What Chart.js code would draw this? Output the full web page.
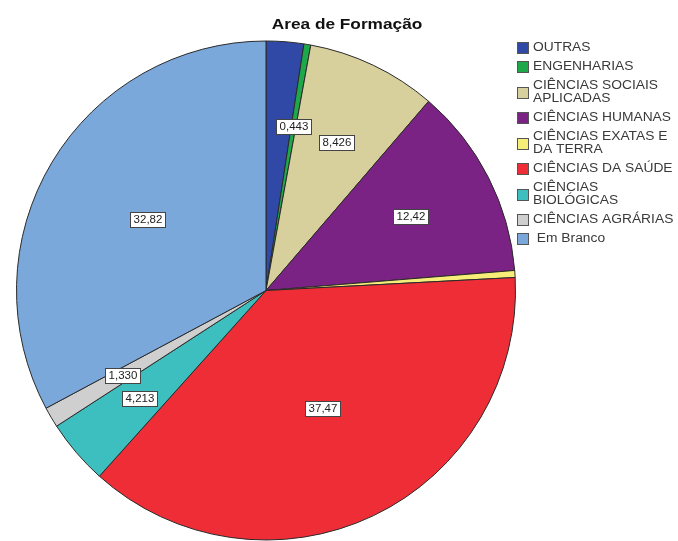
<!DOCTYPE html>
<html>
<head>
<meta charset="utf-8">
<script src="https://cdn.jsdelivr.net/npm/chart.js"></script>
<style>
  body { margin: 0; background: #fff; }
</style>
</head>
<body>
<canvas id="pie" width="678" height="541"></canvas>
<script>
// data (percent)
const categories = [
  ['OUTRAS'],
  ['ENGENHARIAS'],
  ['CIÊNCIAS SOCIAIS', 'APLICADAS'],
  ['CIÊNCIAS HUMANAS'],
  ['CIÊNCIAS EXATAS E', 'DA TERRA'],
  ['CIÊNCIAS DA SAÚDE'],
  ['CIÊNCIAS', 'BIOLÓGICAS'],
  ['CIÊNCIAS AGRÁRIAS'],
  [' Em Branco']
];
const percents = [2.43, 0.443, 8.426, 12.42, 0.45, 37.47, 4.213, 1.330, 32.82];
// slices that carry no value box in the original
const unlabeled = ['OUTRAS', 'CIÊNCIAS EXATAS E'];
const sliceColors = ['#3149a6', '#1fa84a', '#d8d09c', '#7b2385', '#f6ee78', '#ee2d36', '#3dbfc0', '#cfcfcf', '#7aa8da'];

const chartTitle = 'Area de Formação';

// the original picture is a little wider than tall, text too
const stretch = 1.15;

const fmt = v => (v < 1 ? v.toFixed(3) : v.toPrecision(4)).replace('.', ',');

function wideText(ctx, txt, x, y, align) {
  ctx.save();
  ctx.translate(x, y);
  ctx.scale(stretch, 1);
  ctx.textAlign = align;
  ctx.fillText(txt, 0, 0);
  ctx.restore();
}

// value boxes at each slice's centroid
const valueBoxes = {
  id: 'valueBoxes',
  afterDatasetsDraw(chart) {
    const ctx = chart.ctx;
    const meta = chart.getDatasetMeta(0);
    ctx.save();
    ctx.font = '10px "Liberation Sans", Arial, sans-serif';
    ctx.textBaseline = 'middle';
    meta.data.forEach((arc, i) => {
      if (unlabeled.includes(categories[i][0])) return;
      const half = (arc.endAngle - arc.startAngle) / 2;
      const mid = arc.startAngle + half;
      const r = 2 * arc.outerRadius * Math.sin(half) / (3 * half);
      const x = arc.x + r * Math.cos(mid);
      const y = arc.y + r * Math.sin(mid);
      const txt = fmt(percents[i]);
      const w = Math.round(ctx.measureText(txt).width * stretch + 6);
      const h = 15;
      const bx = Math.round(x - w / 2) + 0.5;
      const by = Math.round(y - h / 2) + 0.5;
      ctx.fillStyle = '#fff';
      ctx.fillRect(bx, by, w, h);
      ctx.strokeStyle = '#444';
      ctx.lineWidth = 1;
      ctx.strokeRect(bx, by, w, h);
      ctx.fillStyle = '#222';
      wideText(ctx, txt, bx + w / 2, by + h / 2 + 0.5, 'center');
    });
    ctx.restore();
  }
};

// title and side legend
const sideLegend = {
  id: 'sideLegend',
  afterDraw(chart) {
    const ctx = chart.ctx;
    ctx.save();
    ctx.font = 'bold 15px "Liberation Sans", Arial, sans-serif';
    ctx.fillStyle = '#111';
    ctx.textBaseline = 'middle';
    wideText(ctx, chartTitle, 347, 25, 'center');

    ctx.font = '12px "Liberation Sans", Arial, sans-serif';
    const lineH = 13;
    const left = chart.chartArea.right + 1;
    let y = 38.5;
    categories.forEach((lines, i) => {
      const h = lines.length * lineH + 6;
      const cy = y + h / 2;
      ctx.fillStyle = sliceColors[i];
      ctx.fillRect(left, Math.round(cy - 6), 12, 12);
      ctx.strokeStyle = '#555';
      ctx.lineWidth = 1;
      ctx.strokeRect(left + 0.5, Math.round(cy - 6) + 0.5, 11, 11);
      ctx.fillStyle = '#3a3a3a';
      lines.forEach((t, k) => {
        wideText(ctx, t, left + 16, cy + (k - (lines.length - 1) / 2) * lineH, 'left');
      });
      y += h;
    });
    ctx.restore();
  }
};

new Chart(document.getElementById('pie'), {
  type: 'pie',
  data: {
    labels: categories.map(c => c.join(' ')),
    datasets: [{
      data: percents,
      backgroundColor: sliceColors,
      borderColor: '#2a2a2a',
      borderWidth: 1
    }]
  },
  options: {
    responsive: false,
    animation: false,
    layout: { padding: { top: 40, left: 16, right: 162, bottom: 0 } },
    plugins: {
      legend: { display: false },
      tooltip: { enabled: false },
      title: { display: false }
    }
  },
  plugins: [valueBoxes, sideLegend]
});
</script>
</body>
</html>
